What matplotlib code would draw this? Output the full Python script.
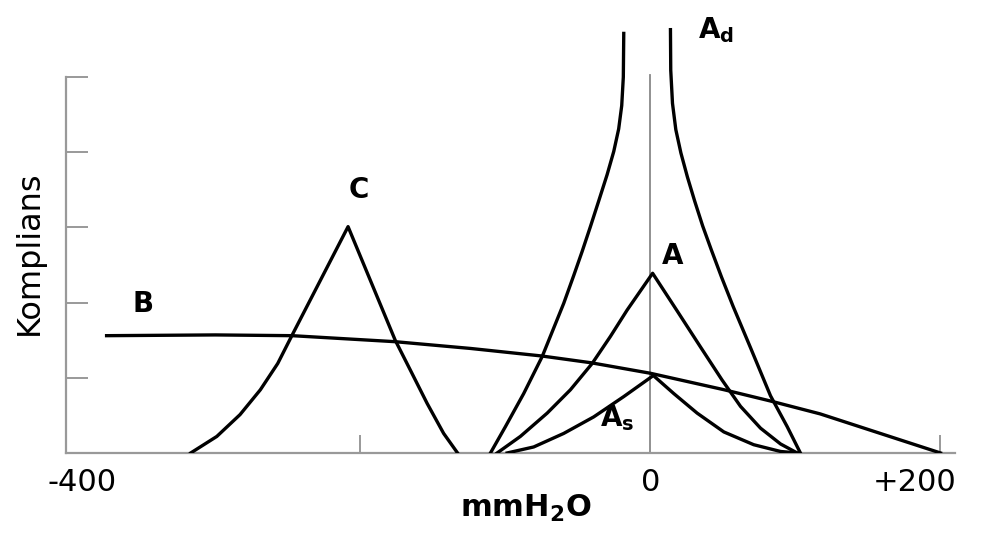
import numpy as np
import matplotlib
matplotlib.use("Agg")
import matplotlib.pyplot as plt

plt.rcParams['font.family'] = ['DejaVu Sans']

# curves (pressure in mmH2O, compliance in tick units)
b_x = [-375, -300, -247, -176, -124, -75, -41, 0, 51, 83, 117, 200]
b_y = [1.56, 1.57, 1.56, 1.48, 1.39, 1.29, 1.20, 1.06, 0.84, 0.69, 0.52, 0.0]

c_x = [-317, -299, -283, -269, -257, -247, -208.5,
       -176, -165.5, -154, -142.6, -133]
c_y = [0.0, 0.22, 0.51, 0.84, 1.19, 1.57, 3.01,
       1.50, 1.10, 0.66, 0.26, 0.0]

adl_x = [-110.3, -100, -87.4, -74.7, -59.8, -52.9, -47.1, -41.4, -35.7,
         -29.9, -25.3, -21.9, -19.8, -18.7, -18.4]
adl_y = [0.0, 0.35, 0.79, 1.28, 1.99, 2.36, 2.68, 3.01, 3.35,
         3.70, 4.01, 4.31, 4.62, 5.00, 5.58]

adr_x = [13.8, 14.0, 15.2, 17.5, 21.0, 25.5, 30.5, 36.0, 42.0, 49.0,
         57.0, 69.0, 82.8, 94.3, 103.4]
adr_y = [5.63, 5.09, 4.65, 4.30, 3.99, 3.67, 3.35, 3.02, 2.70, 2.34,
         1.95, 1.40, 0.76, 0.35, 0.0]

a_x = [-105.7, -89.7, -71.2, -55.2, -40.2, -27.6, -16.1, 1.5,
       18.4, 34.5, 49.4, 62.1, 75.9, 89.7, 101.2]
a_y = [0.0, 0.22, 0.53, 0.84, 1.19, 1.55, 1.90, 2.39,
       1.89, 1.41, 0.97, 0.62, 0.33, 0.12, 0.0]

as_x = [-98.8, -80.5, -59.8, -39.1, -18.4, 2.0, 16.1, 32.2, 50.6, 71.2, 89.7, 101.2]
as_y = [0.0, 0.08, 0.26, 0.48, 0.75, 1.03, 0.79, 0.53, 0.28, 0.11, 0.02, 0.0]

xticks = [-200, 200]
label_x = [-392, 0, 182]
label_text = ['-400', '0', '+200']

fig = plt.figure(figsize=(9.82, 5.36), dpi=100)
ax = fig.add_axes([0.0672, 0.1549, 0.9053, 0.7996])

lw = 2.4
for xs, ys in [(b_x, b_y), (c_x, c_y), (adl_x, adl_y), (adr_x, adr_y),
               (a_x, a_y), (as_x, as_y)]:
    ax.plot(xs, ys, color='black', lw=lw, solid_joinstyle='round', zorder=3)

# vertical reference line at 0
ax.plot([0, 0], [0, 5.03], color='#888888', lw=1.3, zorder=2)

ax.set_xlim(-403, 210)
ax.set_ylim(0, 5.7)

for s in ['top', 'right']:
    ax.spines[s].set_visible(False)
ax.spines['left'].set_bounds(0, 5)
for s in ['left', 'bottom']:
    ax.spines[s].set_color('#999999')
    ax.spines[s].set_linewidth(1.6)

ax.set_yticks([0, 1, 2, 3, 4, 5])
ax.set_yticklabels([])
ax.tick_params(axis='y', direction='in', length=16, width=1.4, color='#999999')

ax.set_xticks(xticks)
ax.set_xticklabels([])
ax.tick_params(axis='x', direction='in', length=13, width=1.4, color='#999999')

tr = ax.get_xaxis_transform()
for lx, lt in zip(label_x, label_text):
    ax.text(lx, -0.07, lt, transform=tr, fontsize=22, ha='center', va='center')

# curve names
bold = dict(fontsize=20, fontweight='bold', ha='center', va='center')
ax.text(-350, 1.98, 'B', **bold)
ax.text(-201, 3.50, 'C', **bold)
ax.text(15, 2.62, 'A', **bold)
ax.text(-23, 0.47, r'A$_{\mathbf{s}}$', **bold)
ax.text(45, 5.62, r'A$_{\mathbf{d}}$', **bold)

fig.text(29 / 982, 1 - 253 / 536, 'Komplians', rotation=90, fontsize=23,
         ha='center', va='center')
fig.text(526 / 982, 1 - 508 / 536, r'mmH$_{\mathbf{2}}$O', fontsize=22,
         fontweight='bold', ha='center', va='center')

fig.savefig('out.png', dpi=100)
